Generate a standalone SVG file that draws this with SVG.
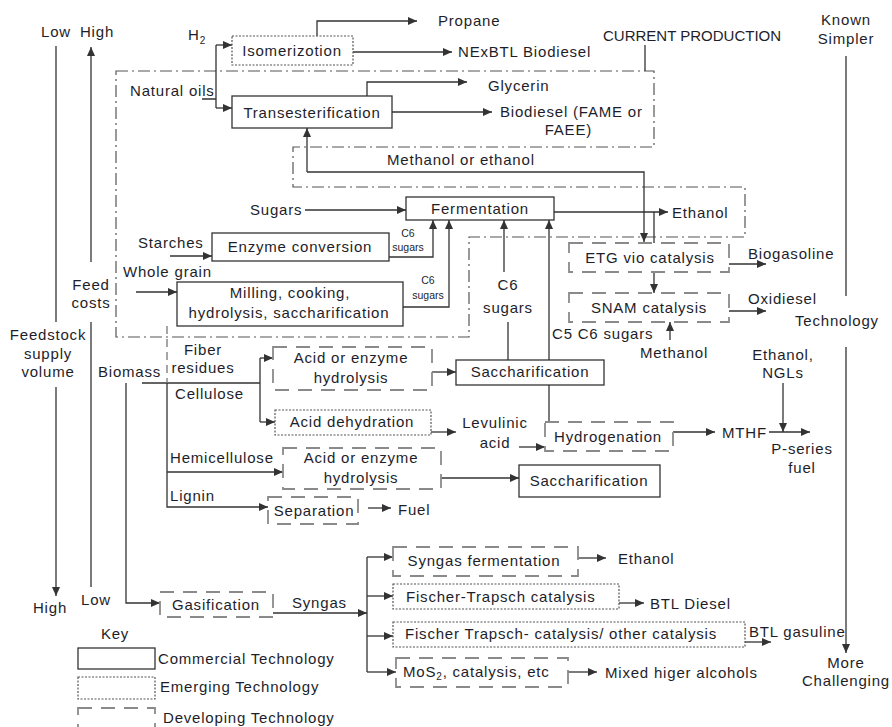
<svg xmlns="http://www.w3.org/2000/svg" width="892" height="727" viewBox="0 0 892 727">
<defs>
<marker id="ah" markerWidth="9" markerHeight="8" refX="9" refY="4" orient="auto" markerUnits="userSpaceOnUse">
<path d="M0,0 L9,4 L0,8 z" fill="#333"/>
</marker>
<style>
.ln{fill:none;stroke:#333;stroke-width:1.3}
.ar{fill:none;stroke:#333;stroke-width:1.3;marker-end:url(#ah)}
.solid{fill:#fff;stroke:#333;stroke-width:1.3}
.dot{fill:#fff;stroke:#555;stroke-width:1.2;stroke-dasharray:2 1.5}
.dash{fill:#fff;stroke:#8a8a8a;stroke-width:1.8;stroke-dasharray:14 9}
.dd{fill:none;stroke:#555;stroke-width:1.2;stroke-dasharray:12 4 2 4}
.dl{fill:none;stroke:#777;stroke-width:1.3;stroke-dasharray:8 5}
text{font-family:"Liberation Sans",Arial,sans-serif;font-size:15px;fill:#1e1e2a;letter-spacing:0.8px}
.c{text-anchor:middle}
.s{font-size:10.5px;letter-spacing:0}
</style>
</defs>
<rect width="892" height="727" fill="#fff"/>

<g id="region-current-production">
<path class="dd" d="M116,71 H654 V147 H293 V187 H745 V237 H469 V337 H116 Z"/>
<path class="ln" d="M645,45 V71"/>
<text x="603" y="41" style="letter-spacing:0">CURRENT PRODUCTION</text>
</g>

<g id="axes">
<path class="ln" d="M56,46 V322"/>
<path class="ar" d="M56,387 V596"/>
<path class="ln" d="M91,587 V322"/>
<path class="ar" d="M91,262 V47"/>
<path class="ln" d="M846,56 V296"/>
<path class="ar" d="M846,347 V653"/>
<text class="c" x="56" y="37">Low</text>
<text class="c" x="97" y="37">High</text>
<text class="c" x="50" y="613">High</text>
<text class="c" x="96" y="605">Low</text>
<text class="c" x="91" y="290">Feed</text>
<text class="c" x="91" y="308">costs</text>
<text class="c" x="48" y="340">Feedstock</text>
<text class="c" x="48" y="359">supply</text>
<text class="c" x="48" y="377">volume</text>
<text class="c" x="846" y="25">Known</text>
<text class="c" x="846" y="44">Simpler</text>
<text x="795" y="326">Technology</text>
<text class="c" x="846" y="668">More</text>
<text class="c" x="846" y="686">Challenging</text>
</g>

<g id="connectors">
<path class="ln" d="M202,99 H216 M216,45 V108"/>
<path class="ar" d="M216,45 H232"/>
<path class="ar" d="M216,108 H232"/>
<path class="ar" d="M317,36 V21 H417"/>
<path class="ar" d="M353,52 H452"/>
<path class="ar" d="M367,96 V82 H467"/>
<path class="ar" d="M392,112 H492"/>
<path class="ar" d="M307,172 H644 V242"/>
<path class="ar" d="M307,172 V128"/>
<path class="ar" d="M305,210 H406"/>
<path class="ar" d="M554,212 H668"/>
<path class="ln" d="M654,212 V243"/>
<path class="ar" d="M170,256 H212"/>
<path class="ar" d="M389,257 H433 V220"/>
<path class="ar" d="M136,292 H177"/>
<path class="ar" d="M403,307 H449 V220"/>
<path class="ar" d="M504,272 V220"/>
<path class="ln" d="M508,322 V360"/>
<path class="ar" d="M549,422 V220"/>
<path class="ar" d="M432,372 H456"/>
<path class="ln" d="M142,383 H260 M260,358 V422"/>
<path class="ar" d="M260,358 H273"/>
<path class="ar" d="M260,422 H275"/>
<path class="ar" d="M167,383 V507 H268"/>
<path class="ar" d="M167,472 H283"/>
<path class="dl" d="M167,326 V383"/>
<path class="ar" d="M126,383 V603 H160"/>
<path class="ar" d="M431,432 H456"/>
<path class="ar" d="M519,447 H545"/>
<path class="ar" d="M673,432 H715"/>
<path class="ar" d="M769,432 H810"/>
<path class="ar" d="M783,383 V432"/>
<path class="ar" d="M441,478 H519"/>
<path class="ar" d="M368,508 H391"/>
<path class="ar" d="M273,613 H367"/>
<path class="ln" d="M367,557 V672"/>
<path class="ar" d="M367,557 H393"/>
<path class="ar" d="M367,596 H393"/>
<path class="ar" d="M367,636 H393"/>
<path class="ar" d="M367,672 H396"/>
<path class="ar" d="M578,558 H606"/>
<path class="ar" d="M619,603 H644"/>
<path class="ar" d="M745,642 H771"/>
<path class="ar" d="M568,672 H597"/>
<path class="ar" d="M729,264 H766"/>
<path class="ar" d="M654,272 V293"/>
<path class="ar" d="M729,311 H766"/>
<path class="ar" d="M670,340 V322"/>
</g>

<g id="labels">
<text x="188" y="40">H<tspan font-size="10" dy="4">2</tspan></text>
<text x="130" y="96">Natural oils</text>
<text x="438" y="26">Propane</text>
<text x="458" y="57">NExBTL Biodiesel</text>
<text x="488" y="91">Glycerin</text>
<text x="500" y="117">Biodiesel (FAME or</text>
<text x="592" y="135" text-anchor="end">FAEE)</text>
<text x="387" y="165">Methanol or ethanol</text>
<text x="250" y="215">Sugars</text>
<text x="672" y="218">Ethanol</text>
<text x="138" y="248">Starches</text>
<text x="123" y="277">Whole grain</text>
<text class="c s" x="408" y="237">C6</text>
<text class="c s" x="408" y="251">sugars</text>
<text class="c s" x="428" y="284">C6</text>
<text class="c s" x="428" y="299">sugars</text>
<text class="c" x="508" y="290">C6</text>
<text class="c" x="508" y="313">sugars</text>
<text x="552" y="339">C5 C6 sugars</text>
<text x="640" y="358">Methanol</text>
<text x="748" y="259">Biogasoline</text>
<text x="748" y="304">Oxidiesel</text>
<text class="c" x="783" y="360">Ethanol,</text>
<text class="c" x="783" y="378">NGLs</text>
<text x="98" y="377">Biomass</text>
<text class="c" x="203" y="355">Fiber</text>
<text class="c" x="203" y="373">residues</text>
<text x="175" y="399">Cellulose</text>
<text x="170" y="463">Hemicellulose</text>
<text x="170" y="501">Lignin</text>
<text class="c" x="495" y="428">Levulinic</text>
<text class="c" x="495" y="448">acid</text>
<text x="722" y="438">MTHF</text>
<text class="c" x="802" y="454">P-series</text>
<text class="c" x="802" y="473">fuel</text>
<text x="398" y="515">Fuel</text>
<text x="292" y="608">Syngas</text>
<text x="618" y="564">Ethanol</text>
<text x="650" y="609">BTL Diesel</text>
<text x="749" y="637">BTL gasuline</text>
<text x="605" y="678">Mixed higer alcohols</text>
</g>

<g id="isomerization"><rect class="dot" x="232" y="36" width="121" height="29"/><text class="c" x="292" y="56">Isomerizotion</text></g>
<g id="transesterification"><rect class="solid" x="232" y="96" width="160" height="32"/><text class="c" x="312" y="118">Transesterification</text></g>
<g id="fermentation"><rect class="solid" x="406" y="197" width="148" height="23"/><text class="c" x="480" y="214">Fermentation</text></g>
<g id="enzyme-conversion"><rect class="solid" x="212" y="233" width="177" height="28"/><text class="c" x="300" y="252">Enzyme conversion</text></g>
<g id="milling"><rect class="solid" x="177" y="282" width="226" height="44"/><text class="c" x="290" y="298">Milling, cooking,</text><text class="c" x="289" y="318">hydrolysis, saccharification</text></g>
<g id="etg"><rect class="dash" x="569" y="243" width="160" height="29"/><text class="c" x="650" y="263">ETG vio catalysis</text></g>
<g id="snam"><rect class="dash" x="569" y="293" width="160" height="29"/><text class="c" x="649" y="313">SNAM catalysis</text></g>
<g id="acid-enzyme-1"><rect class="dash" x="273" y="347" width="159" height="43"/><text class="c" x="351" y="363">Acid or enzyme</text><text class="c" x="351" y="383">hydrolysis</text></g>
<g id="saccharification-1"><rect class="solid" x="456" y="360" width="148" height="25"/><text class="c" x="530" y="377">Saccharification</text></g>
<g id="acid-dehydration"><rect class="dot" x="275" y="410" width="156" height="25"/><text class="c" x="352" y="427">Acid dehydration</text></g>
<g id="hydrogenation"><rect class="dash" x="545" y="422" width="128" height="29"/><text class="c" x="608" y="442">Hydrogenation</text></g>
<g id="acid-enzyme-2"><rect class="dash" x="283" y="448" width="158" height="41"/><text class="c" x="361" y="463">Acid or enzyme</text><text class="c" x="361" y="483">hydrolysis</text></g>
<g id="saccharification-2"><rect class="solid" x="519" y="465" width="141" height="32"/><text class="c" x="589" y="486">Saccharification</text></g>
<g id="separation"><rect class="dash" x="268" y="497" width="90" height="27"/><text class="c" x="314" y="516">Separation</text></g>
<g id="gasification"><rect class="dash" x="160" y="592" width="113" height="25"/><text class="c" x="216" y="610">Gasification</text></g>
<g id="syngas-fermentation"><rect class="dash" x="393" y="547" width="185" height="29"/><text class="c" x="484" y="566">Syngas fermentation</text></g>
<g id="fischer-1"><rect class="dot" x="393" y="584" width="226" height="25"/><text x="406" y="602">Fischer-Trapsch catalysis</text></g>
<g id="fischer-2"><rect class="dot" x="393" y="622" width="352" height="25"/><text x="405" y="639">Fischer Trapsch- catalysis/ other catalysis</text></g>
<g id="mos2"><rect class="dash" x="396" y="658" width="172" height="29"/><text x="403" y="677">MoS<tspan font-size="10" dy="3">2</tspan><tspan dy="-3">, catalysis, etc</tspan></text></g>

<g id="key">
<text class="c" x="115" y="639">Key</text>
<rect class="solid" x="78" y="648" width="77" height="21"/>
<text x="158" y="664">Commercial Technology</text>
<rect class="dot" x="78" y="677" width="77" height="22"/>
<text x="160" y="692">Emerging Technology</text>
<rect class="dash" x="78" y="708" width="77" height="30"/>
<text x="163" y="723">Developing Technology</text>
</g>
</svg>
